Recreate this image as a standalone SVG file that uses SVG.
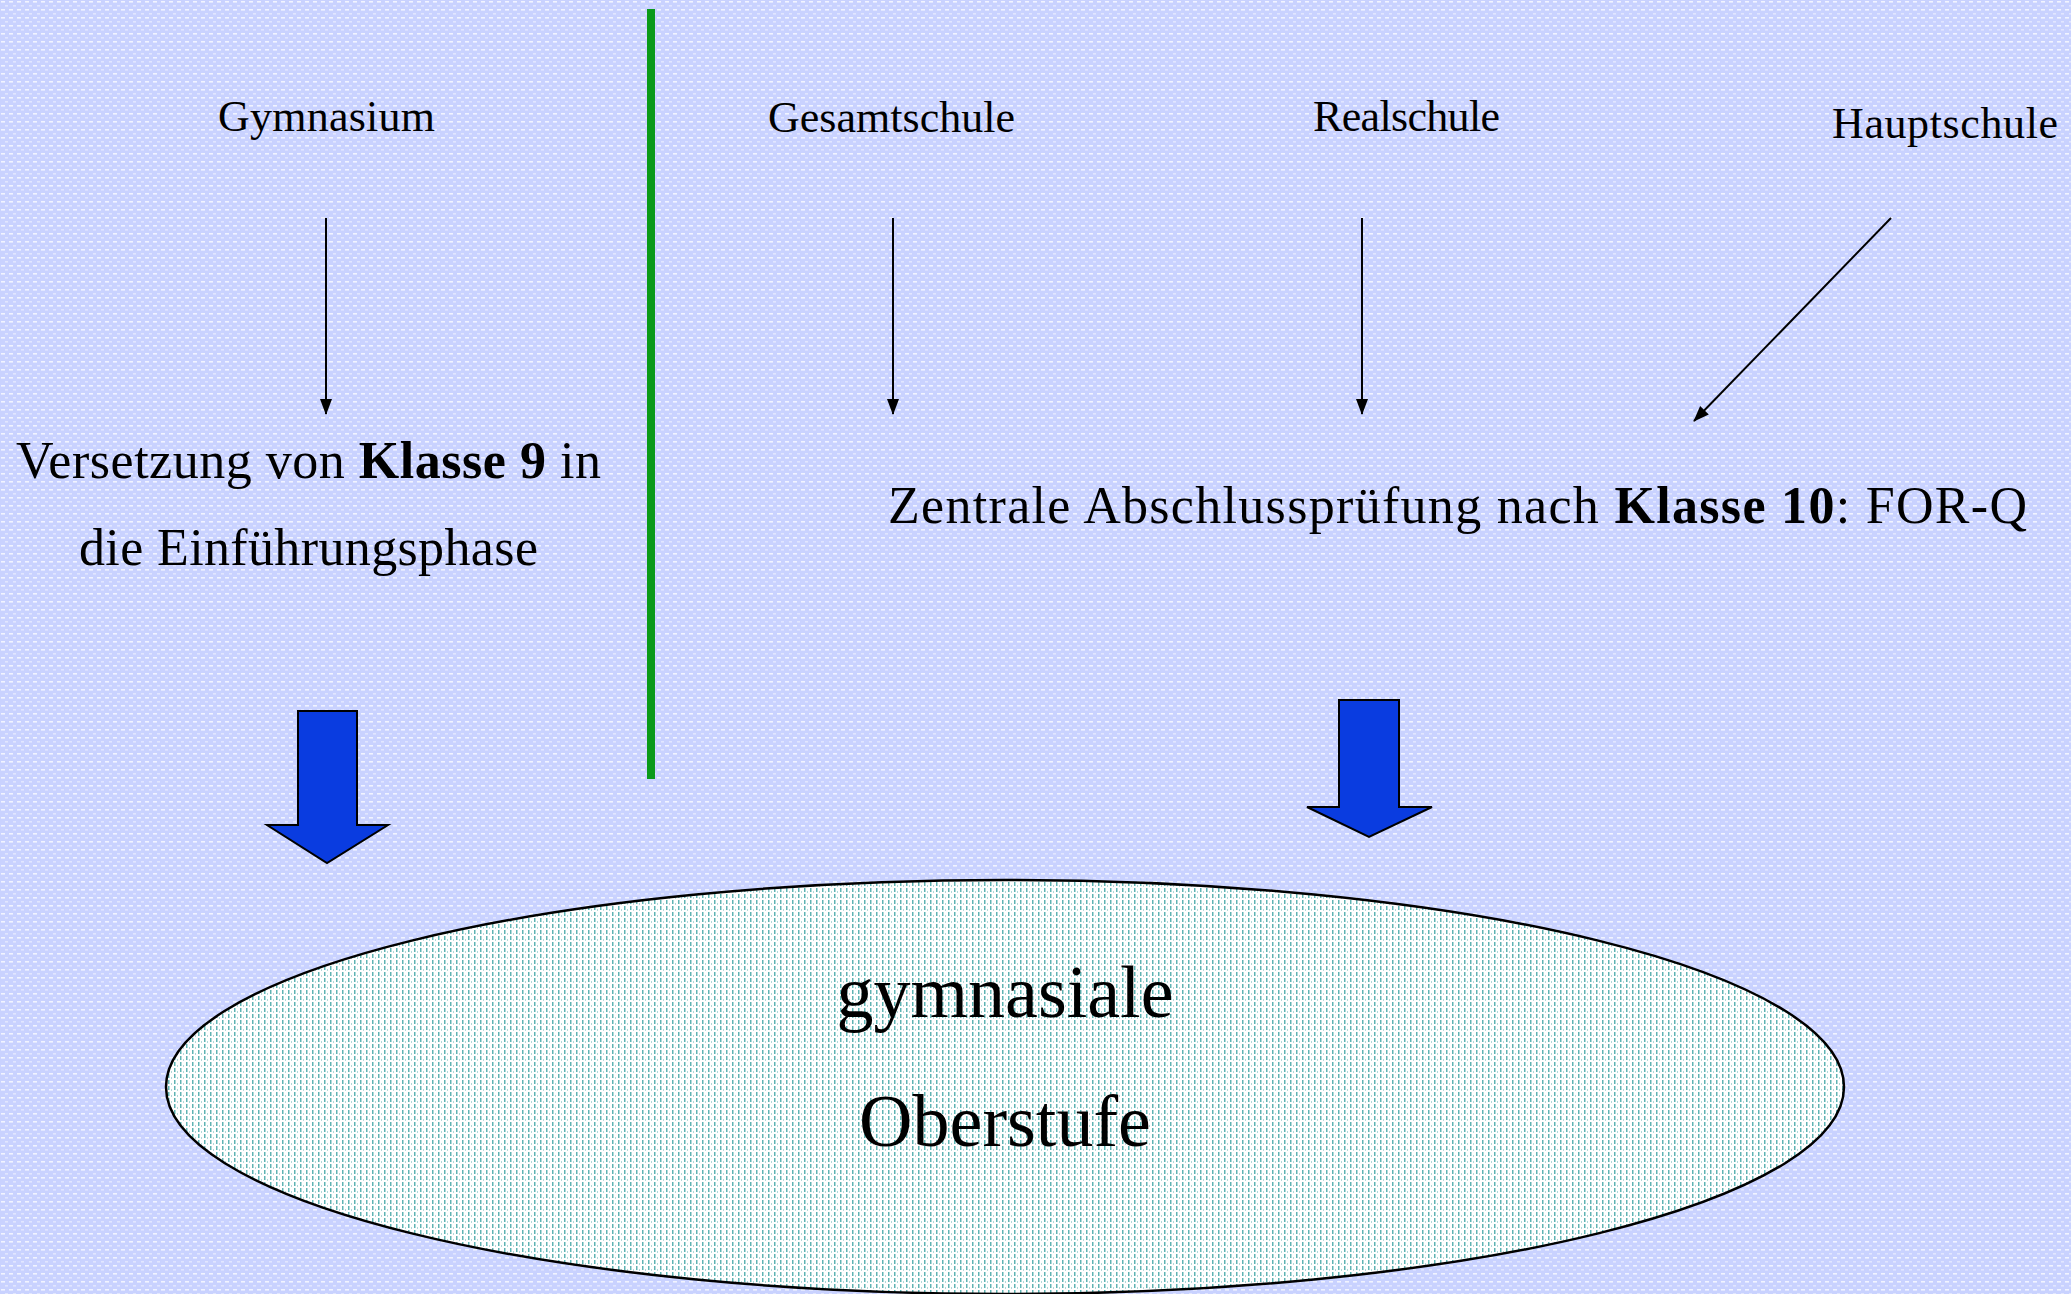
<svg xmlns="http://www.w3.org/2000/svg" width="2071" height="1294" viewBox="0 0 2071 1294">
<defs>
<style>
.t{font-family:"Liberation Serif","Times New Roman",serif;fill:#000;}
.hdr{font-size:44px;}
.mid{font-size:52px;}
.big{font-size:74px;}
.b{font-weight:bold;}
.thin{stroke:#000;stroke-width:2;fill:none;marker-end:url(#ah);}
.block{fill:#0a3ce0;stroke:#000;stroke-width:2;stroke-linejoin:miter;}
</style>
<pattern id="bg" width="8" height="8" patternUnits="userSpaceOnUse">
<rect width="8" height="8" fill="#c9d2ff"/>
<rect x="1" y="1" width="4" height="1.6" fill="#ffffff" opacity="0.75"/>
<rect x="5" y="5" width="3" height="1.6" fill="#ffffff" opacity="0.45"/>
</pattern>
<pattern id="ell" width="6" height="6" patternUnits="userSpaceOnUse">
<rect width="6" height="6" fill="#ffffff"/>
<rect x="0" y="0" width="1.5" height="4" fill="#5fb3b3"/>
<rect x="3" y="3" width="1" height="2" fill="#5fb3b3" opacity="0.5"/>
</pattern>
<marker id="ah" viewBox="0 0 16 16" refX="15" refY="8" markerWidth="16" markerHeight="16" orient="auto" markerUnits="userSpaceOnUse">
<path d="M0,2 L16,8 L0,14 z" fill="#000"/>
</marker>
</defs>
<rect width="2071" height="1294" fill="url(#bg)"/>
<rect x="647" y="9" width="8" height="770" fill="#0a9a1a"/>

<g id="connectors">
<line class="thin" x1="326" y1="218" x2="326" y2="414"/>
<line class="thin" x1="893" y1="218" x2="893" y2="414"/>
<line class="thin" x1="1362" y1="218" x2="1362" y2="414"/>
<line class="thin" x1="1891" y1="218" x2="1694" y2="421"/>
<polygon id="blockarrow-left" class="block" points="298,711 357,711 357,825 388,825 327,863 267,825 298,825"/>
<polygon id="blockarrow-right" class="block" points="1339,700 1399,700 1399,807 1432,807 1369,837 1307,807 1339,807"/>
</g>

<g id="node-gymnasium"><text class="t hdr" x="218" y="131" textLength="217">Gymnasium</text></g>
<g id="node-gesamtschule"><text class="t hdr" x="768" y="132" textLength="247">Gesamtschule</text></g>
<g id="node-realschule"><text class="t hdr" x="1313" y="131" textLength="187">Realschule</text></g>
<g id="node-hauptschule"><text class="t hdr" x="1832" y="138" textLength="226">Hauptschule</text></g>

<g id="node-versetzung">
<text class="t mid" x="16" y="478" textLength="585">Versetzung von <tspan class="b">Klasse 9</tspan> in</text>
<text class="t mid" x="79" y="565" textLength="459">die Einführungsphase</text>
</g>

<g id="node-zentrale">
<text class="t mid" x="888" y="523" textLength="1139">Zentrale Abschlussprüfung nach <tspan class="b">Klasse 10</tspan>: FOR-Q</text>
</g>

<g id="node-oberstufe">
<ellipse cx="1005" cy="1087" rx="839" ry="207" fill="url(#ell)" stroke="#000" stroke-width="2.5"/>
<text class="t big" x="1005" y="1017" text-anchor="middle">gymnasiale</text>
<text class="t big" x="1005" y="1146" text-anchor="middle">Oberstufe</text>
</g>
</svg>
